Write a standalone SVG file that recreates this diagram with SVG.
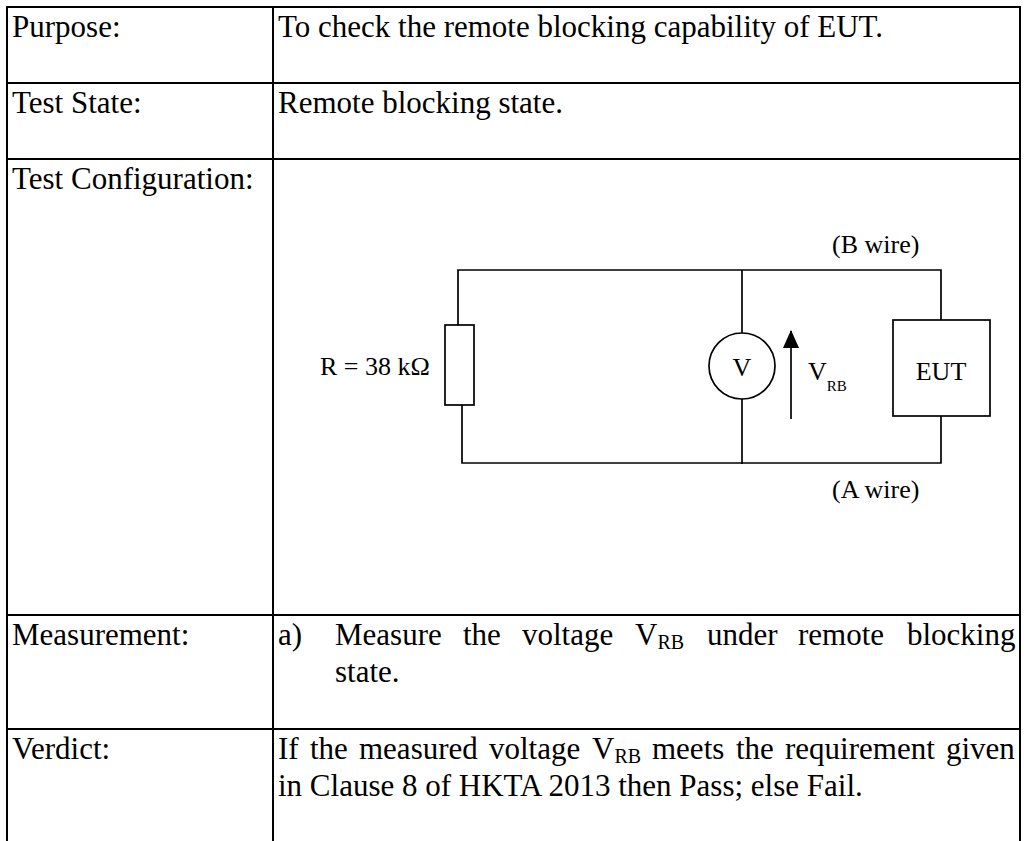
<svg xmlns="http://www.w3.org/2000/svg" width="1027" height="841" viewBox="0 0 1027 841">
<style>
.t{font-family:"Liberation Serif","Times New Roman",serif;font-size:31px;fill:#000}
.c{font-family:"Liberation Serif","Times New Roman",serif;font-size:26px;fill:#000}
.grid{stroke:#000;stroke-width:2;fill:none}
.w{stroke:#000;stroke-width:1.7;fill:none}
</style>
<defs>
<marker id="ah" viewBox="0 0 18 16" refX="17" refY="8" markerWidth="18" markerHeight="16" markerUnits="userSpaceOnUse" orient="auto">
<path d="M0,0 L18,8 L0,16 Z" fill="#000"/>
</marker>
</defs>
<rect width="1027" height="841" fill="#fff"/>
<g id="table" class="grid">
<line x1="7" y1="7" x2="1020" y2="7"/>
<line x1="7" y1="83" x2="1020" y2="83"/>
<line x1="7" y1="159" x2="1020" y2="159"/>
<line x1="7" y1="615" x2="1020" y2="615"/>
<line x1="7" y1="729" x2="1020" y2="729"/>
<line x1="7" y1="6" x2="7" y2="841"/>
<line x1="273" y1="6" x2="273" y2="841"/>
<line x1="1020" y1="6" x2="1020" y2="841"/>
</g>
<g id="labels">
<text class="t" x="12" y="37">Purpose:</text>
<text class="t" x="278" y="37">To check the remote blocking capability of EUT.</text>
<text class="t" x="12" y="113">Test State:</text>
<text class="t" x="278" y="113">Remote blocking state.</text>
<text class="t" x="12" y="189">Test Configuration:</text>
<text class="t" x="12" y="645">Measurement:</text>
<g class="t">
<text x="278" y="645">a)</text>
<text x="335" y="645">Measure</text>
<text x="463" y="645">the</text>
<text x="522" y="645">voltage</text>
<text x="635" y="645">V<tspan font-size="20" dy="4">RB</tspan></text>
<text x="707" y="645">under</text>
<text x="798" y="645">remote</text>
<text x="907" y="645">blocking</text>
<text x="335" y="682">state.</text>
</g>
<text class="t" x="12" y="759">Verdict:</text>
<g class="t">
<text x="278" y="759">If</text>
<text x="310" y="759">the</text>
<text x="359" y="759">measured</text>
<text x="489" y="759">voltage</text>
<text x="592" y="759">V<tspan font-size="20" dy="4">RB</tspan></text>
<text x="652" y="759">meets</text>
<text x="736" y="759">the</text>
<text x="785" y="759">requirement</text>
<text x="946" y="759">given</text>
<text x="278" y="796">in Clause 8 of HKTA 2013 then Pass; else Fail.</text>
</g>
</g>
<g id="connectors" class="w">
<polyline points="458,325 458,270 941,270 941,320"/>
<polyline points="462,405 462,463 941,463 941,416"/>
<line x1="742" y1="270" x2="742" y2="333"/>
<line x1="742" y1="399" x2="742" y2="464"/>
</g>
<g id="resistor">
<rect x="445" y="325" width="29" height="80" class="w" fill="#fff"/>
<text class="c" x="320" y="375">R = 38 kΩ</text>
</g>
<g id="voltmeter">
<circle cx="742" cy="366" r="33" class="w"/>
<text class="c" x="742" y="376" text-anchor="middle">V</text>
</g>
<g id="vrb">
<line x1="791" y1="419" x2="791" y2="331" class="w" marker-end="url(#ah)"/>
<text class="c" x="808" y="380" font-size="20">V<tspan font-size="15" dy="11">RB</tspan></text>
</g>
<g id="eut">
<rect x="893" y="320" width="97" height="96" class="w"/>
<text class="c" x="941" y="380" text-anchor="middle">EUT</text>
</g>
<text class="c" x="832" y="253">(B wire)</text>
<text class="c" x="832" y="498">(A wire)</text>
</svg>
